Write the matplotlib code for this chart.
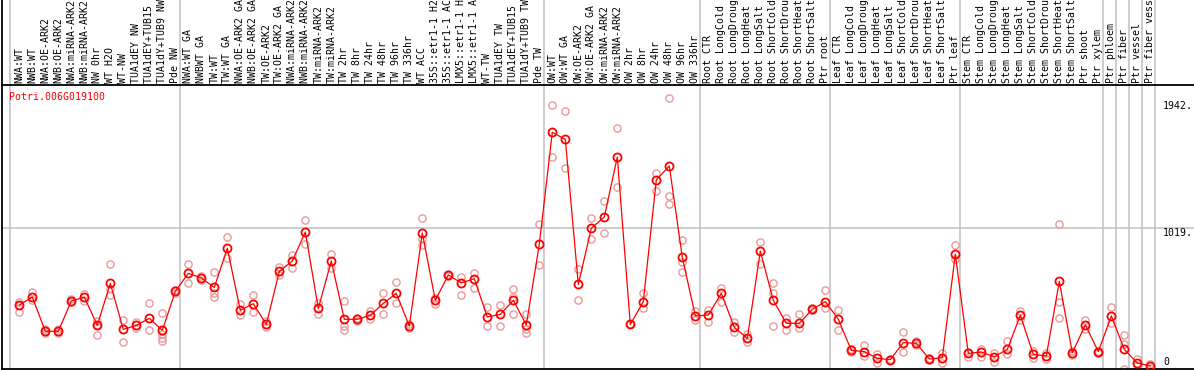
import numpy as np
import matplotlib
matplotlib.use("Agg")
import matplotlib.pyplot as plt
from matplotlib.transforms import blended_transform_factory

gene = "Potri.006G019100"

samples = [
    "NWA:WT", "NWB:WT", "NWA:OE-ARK2", "NWB:OE-ARK2", "NWA:miRNA-ARK2", "NWB:miRNA-ARK2",
    "NW 0hr", "WT H2O", "WT-NW", "TUA1dEY NW", "TUA1dEY+TUB15 NW", "TUA1dY+TUB9 NW", "Pde NW",
    "NWA:WT GA", "NWBWT GA", "TW:WT", "TW:WT GA", "NWA:OE-ARK2 GA", "NWB:OE-ARK2 GA",
    "TW:OE-ARK2", "TW:OE-ARK2 GA", "NWA:miRNA-ARK2 GA", "NWB:miRNA-ARK2 GA", "TW:miRNA-ARK2",
    "TW:miRNA-ARK2", "TW 2hr", "TW 8hr", "TW 24hr", "TW 48hr", "TW 96hr", "TW 336hr", "WT ACC",
    "35S::etr1-1 H2O", "35S::etr1-1 ACC", "LMX5::etr1-1 H2O", "LMX5::etr1-1 ACC", "WT-TW",
    "TUA1dEY TW", "TUA1dEY+TUB15 TW", "TUA1dY+TUB9 TW", "Pde TW",
    "OW:WT", "OW:WT GA", "OW:OE-ARK2", "OW:OE-ARK2 GA", "OW:miRNA-ARK2", "OW:miRNA-ARK2",
    "OW 2hr", "OW 8hr", "OW 24hr", "OW 48hr", "OW 96hr", "OW 336hr",
    "Root CTR", "Root LongCold", "Root LongDrought", "Root LongHeat", "Root LongSalt",
    "Root ShortCold", "Root ShortDrought", "Root ShortHeat", "Root ShortSalt", "Ptr root",
    "Leaf CTR", "Leaf LongCold", "Leaf LongDrought", "Leaf LongHeat", "Leaf LongSalt",
    "Leaf ShortCold", "Leaf ShortDrought", "Leaf ShortHeat", "Leaf ShortSalt", "Ptr leaf",
    "Stem CTR", "Stem LongCold", "Stem LongDrought", "Stem LongHeat", "Stem LongSalt",
    "Stem ShortCold", "Stem ShortDrought", "Stem ShortHeat", "Stem ShortSalt", "Ptr shoot",
    "Ptr xylem", "Ptr phloem", "Ptr fiber", "Ptr vessel", "Ptr fiber vessel",
]

group_sizes = [13, 28, 12, 10, 10, 11, 1, 1, 1, 1]

means = [
    463, 521, 273, 273, 492, 521, 316, 620, 287, 316, 367, 280, 562,
    693, 659, 591, 874, 425, 473, 323, 707, 782, 992, 439, 782, 360, 360, 389, 475,
    548, 311, 985, 497, 681, 623, 654, 377, 396, 497, 319, 903,
    1714, 1663, 613, 1019, 1101, 1535, 323, 488, 1369, 1470, 809, 384,
    391, 548, 302, 222, 854, 497, 331, 331, 432, 488,
    360, 135, 126, 77, 68, 191, 186, 72, 82, 830,
    113, 123, 89, 142, 389, 106, 94, 635, 118, 319, 126,
    384, 142, 43, 22,
]

reps = [
    [488, 415, 463], [560, 497], [287, 258], [287, 258], [504, 485], [541, 492],
    [348, 244, 316], [758, 577, 533], [352, 198], [340, 299], [475, 280], [408, 251, 227, 203],
    [572, 548],
    [758, 620], [673, 642], [702, 553, 521], [956, 806], [468, 389], [533, 415], [348, 307],
    [741, 678], [825, 734], [1077, 908], [475, 396], [833, 734], [492, 311, 280], [372, 348],
    [420, 360], [548, 396], [630, 475], [323, 299], [1091, 939, 895], [517, 468], [685, 673],
    [669, 533], [693, 589], [449, 311], [463, 311], [577, 521, 396], [396, 287, 263], [1048, 751],
    [1912, 1535], [1866, 1453], [722, 497], [1091, 939], [1214, 985], [1745, 1315], [323, 323],
    [548, 444], [1417, 1287], [1960, 1253, 1192], [932, 775, 702], [420, 352],
    [425, 343], [589, 488], [340, 268], [251, 196], [920, 763], [620, 553, 311], [372, 280],
    [396, 299], [444, 425], [572, 444],
    [427, 280], [142, 126], [174, 94], [106, 46], [75, 63], [270, 123], [203, 174], [82, 65],
    [118, 46], [895, 794],
    [126, 89], [142, 89], [113, 51], [203, 106], [420, 355], [130, 82], [113, 70],
    [1050, 488, 367], [130, 99], [355, 292], [130, 118],
    [449, 336], [246, 179, 0], [70, 27], [39, 10],
]

grid_value = 1019
right_vals = [1942, 1019, 0]
right_labels = ["1942.", "1019.", "0"]

W, H = 1194, 370
fig = plt.figure(figsize=(W / 100, H / 100), dpi=100)

x = np.arange(len(means))
xl = (-1.37, 90.36)
ytop = 2049.6
mono = "DejaVu Sans Mono"
fs = 7.1

# main plotting area
ax = fig.add_axes([1.5 / W, 1 / H, 1 - 1.5 / W, 283 / H])
# header with the sample names
hx = fig.add_axes([1.5 / W, 285 / H, 1 - 1.5 / W, 85 / H])

for a in (ax, hx):
    a.set_xlim(*xl)
    for s in ["top", "right"]:
        a.spines[s].set_visible(False)
    for s in ["left", "bottom"]:
        a.spines[s].set_color("black")
        a.spines[s].set_linewidth(1.3)
    a.set_xticks([])
    a.set_yticks([])
ax.set_ylim(0, ytop)
hx.set_ylim(0, 1)

# group separators
starts = np.cumsum(group_sizes)
seps = [-0.7] + [s - 1 + 0.385 for s in starts]
for a in (ax, hx):
    for sx in seps:
        a.axvline(sx, color="#c0c0c0", lw=1.1, zorder=0)
ax.axhline(grid_value, color="#c0c0c0", lw=1.1, zorder=0)

for i, name in enumerate(samples):
    hx.text(i, 2 / 85, name, rotation=90, ha="center", va="bottom",
            family=mono, fontsize=fs, color="black")

# replicates
for i, r in enumerate(reps):
    ax.plot([i] * len(r), r, "o", ms=5.2, mfc="none", mec="#eb9a9a", mew=1.0, zorder=2)

# means
ax.plot(x, means, "-", color="red", lw=0.9, zorder=3)
ax.plot(x, means, "o", ms=5.8, mfc="none", mec="red", mew=1.3, zorder=4)

ax.text(8 / 1192.5, (369 - 97) / 283, gene, transform=ax.transAxes, color="red",
        family=mono, fontsize=fs, ha="left", va="center")

# value labels on the right
tr = blended_transform_factory(ax.transAxes, ax.transData)
rx = (1163 - 1.5) / 1192.5
for v, lab in zip(right_vals, right_labels):
    if v == 0:
        ax.text(rx, 50, lab, family=mono, fontsize=fs, ha="left", va="center", transform=tr)
    else:
        ax.text(rx, v, lab, family=mono, fontsize=fs, ha="left", va="top", transform=tr)

fig.savefig("out.png", dpi=100)
